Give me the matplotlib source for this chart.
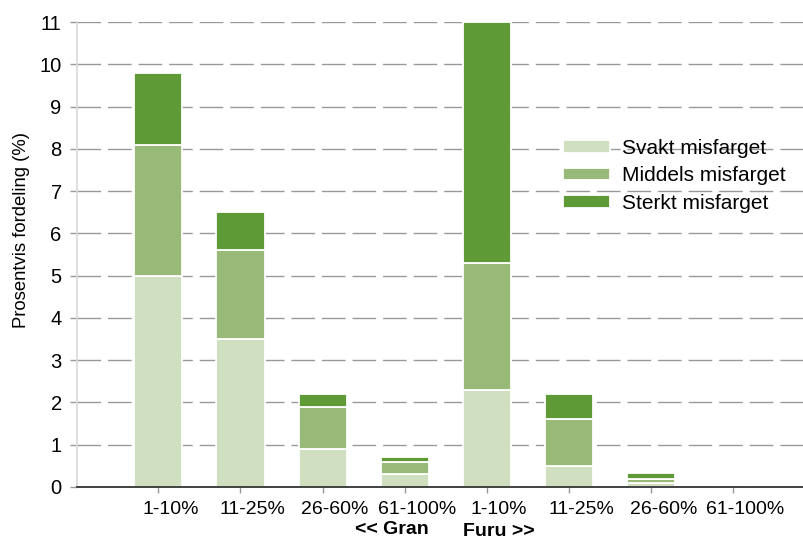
import matplotlib
matplotlib.use('Agg')
import matplotlib.pyplot as plt
import matplotlib.transforms as mtransforms
import numpy as np

plt.rcParams['font.family'] = ['Liberation Sans', 'DejaVu Sans']

categories = ['1-10%', '11-25%', '26-60%', '61-100%', '1-10%', '11-25%', '26-60%', '61-100%']
svakt = [5.0, 3.5, 0.9, 0.3, 2.3, 0.5, 0.1, 0.0]
middels = [3.1, 2.1, 1.0, 0.3, 3.0, 1.1, 0.1, 0.0]
sterkt = [1.7, 0.9, 0.3, 0.1, 5.7, 0.6, 0.12, 0.0]
series_names = ['Svakt misfarget', 'Middels misfarget', 'Sterkt misfarget']
colors = ['#d0dfc0', '#98b978', '#5e9a35']

fig = plt.figure(figsize=(8.04, 5.4), dpi=100)
ax = fig.add_axes([77 / 804, 53 / 540, 1 - 77 / 804, 465 / 540])

x = np.arange(len(categories))
bottom = np.zeros(len(categories))
for vals, name, col in zip([svakt, middels, sterkt], series_names, colors):
    ax.bar(x, vals, width=0.585, bottom=bottom, color=col, edgecolor='white',
           linewidth=1.3, label=name, zorder=3)
    bottom += np.array(vals)

ax.set_xlim(-0.99, 7.86)
ax.set_ylim(0, 11)
ax.set_yticks(range(0, 12))
ax.set_xticks(x)
ax.set_xticklabels(categories)
ax.tick_params(axis='both', colors='#999999', labelcolor='black')
ax.tick_params(axis='y', length=5, width=1, pad=6, labelsize=14.5)
ax.tick_params(axis='x', length=4, width=1, pad=6, labelsize=14)

# the labels sit a little right of the ticks in the original
shift = mtransforms.ScaledTranslation(0.12, 0, fig.dpi_scale_trans)
for lbl in ax.get_xticklabels():
    lbl.set_transform(lbl.get_transform() + shift)

ax.yaxis.grid(True, color='#999999', linewidth=1, linestyle=(0, (17, 5)), zorder=0)
ax.set_axisbelow(True)

for s in ['top', 'right']:
    ax.spines[s].set_visible(False)
ax.spines['left'].set_color('#d9d9d9')
ax.spines['left'].set_linewidth(1.2)
ax.spines['bottom'].set_color('#222222')
ax.spines['bottom'].set_linewidth(1.2)
ax.spines['bottom'].set_zorder(4)

ax.set_ylabel('Prosentvis fordeling (%)', fontsize=13.3)
ax.yaxis.set_label_coords(-0.065, 0.553)

fig.text(392 / 804, 1 - 530 / 540, '<< Gran', ha='center', va='center',
         fontsize=14, fontweight='bold')
fig.text(499 / 804, 1 - 532 / 540, 'Furu >>', ha='center', va='center',
         fontsize=14, fontweight='bold')

ax.legend(loc='upper left', bbox_to_anchor=(563 / 804, 1 - 139 / 540),
          bbox_transform=fig.transFigure, frameon=False, borderpad=0,
          borderaxespad=0, fontsize=15, handlelength=2.26, handleheight=0.55,
          labelspacing=0.4, handletextpad=0.58)

fig.savefig('out.png', dpi=100)
